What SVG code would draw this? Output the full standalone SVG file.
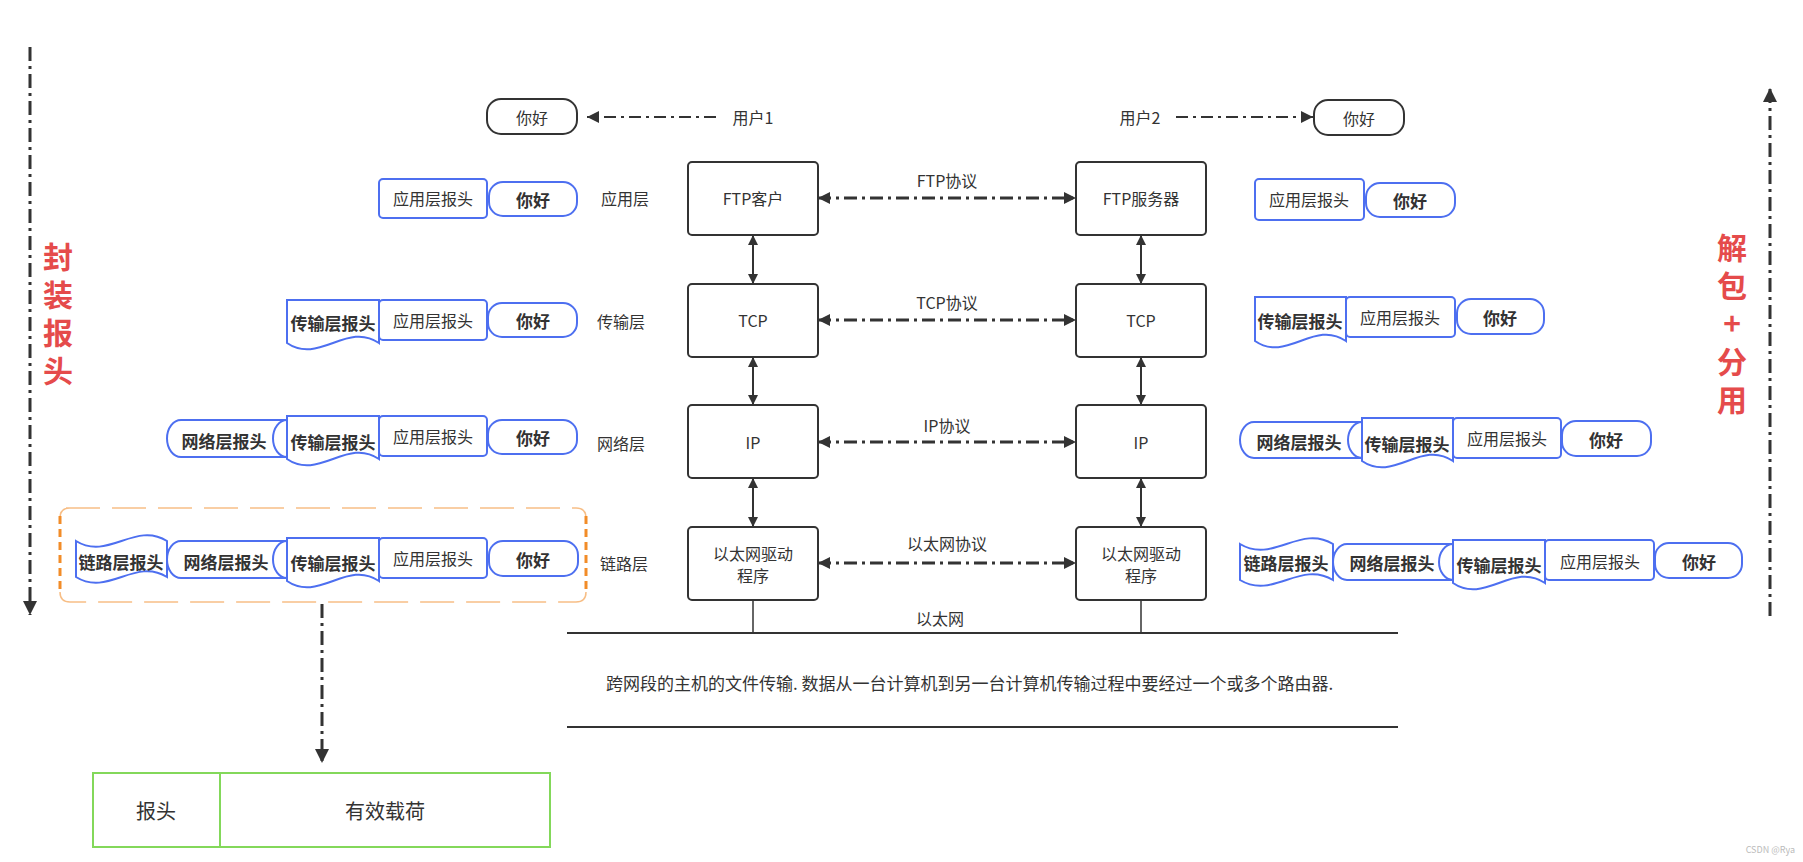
<svg xmlns="http://www.w3.org/2000/svg" width="1803" height="862" viewBox="0 0 1803 862">
<style>
.box{fill:#fff;stroke:#333;stroke-width:2}
.pk{fill:#fff;stroke:#4D6FF0;stroke-width:2}
.t{font-family:"Noto Sans CJK SC","Noto Sans",sans-serif;font-size:16px;fill:#333;text-anchor:middle;dominant-baseline:central}
.b{font-weight:bold;font-size:17px}
.red{font-family:"Noto Sans CJK SC","Noto Sans",sans-serif;fill:#E54B4B;font-size:30px;font-weight:bold;writing-mode:vertical-rl;text-orientation:upright;letter-spacing:8px}
.proto{stroke:#333;stroke-width:3;stroke-dasharray:13 5 3 5;fill:none}
.user{stroke:#333;stroke-width:2;stroke-dasharray:12 5 3 5;fill:none}
.side{stroke:#333;stroke-width:3;stroke-dasharray:14 5 3 5;fill:none}
.solid{stroke:#333;stroke-width:2;fill:none}
</style>
<defs>
<marker id="ah" viewBox="0 0 10 10" refX="10" refY="5" markerUnits="userSpaceOnUse" markerWidth="14" markerHeight="12" orient="auto-start-reverse"><path d="M0,0 L10,5 L0,10 z" fill="#333"/></marker>
<marker id="ahs" viewBox="0 0 10 10" refX="10" refY="5" markerUnits="userSpaceOnUse" markerWidth="12" markerHeight="10" orient="auto-start-reverse"><path d="M0,0 L10,5 L0,10 z" fill="#333"/></marker>
<marker id="ahb" viewBox="0 0 10 10" refX="10" refY="5" markerUnits="userSpaceOnUse" markerWidth="18" markerHeight="14" orient="auto-start-reverse"><path d="M0,0 L10,5 L0,10 z" fill="#333"/></marker>
</defs>

<g id="connectors">
  <line class="user" x1="716" y1="117" x2="587" y2="117" marker-end="url(#ah)"/>
  <line class="user" x1="1176" y1="117" x2="1313" y2="117" marker-end="url(#ah)"/>
  <line class="proto" x1="818" y1="198" x2="1076" y2="198" marker-start="url(#ah)" marker-end="url(#ah)"/>
  <line class="proto" x1="818" y1="320" x2="1076" y2="320" marker-start="url(#ah)" marker-end="url(#ah)"/>
  <line class="proto" x1="818" y1="442" x2="1076" y2="442" marker-start="url(#ah)" marker-end="url(#ah)"/>
  <line class="proto" x1="818" y1="563" x2="1076" y2="563" marker-start="url(#ah)" marker-end="url(#ah)"/>
  <line class="solid" x1="753" y1="235" x2="753" y2="284" marker-start="url(#ahs)" marker-end="url(#ahs)"/>
  <line class="solid" x1="753" y1="357" x2="753" y2="405" marker-start="url(#ahs)" marker-end="url(#ahs)"/>
  <line class="solid" x1="753" y1="478" x2="753" y2="527" marker-start="url(#ahs)" marker-end="url(#ahs)"/>
  <line class="solid" x1="1141" y1="235" x2="1141" y2="284" marker-start="url(#ahs)" marker-end="url(#ahs)"/>
  <line class="solid" x1="1141" y1="357" x2="1141" y2="405" marker-start="url(#ahs)" marker-end="url(#ahs)"/>
  <line class="solid" x1="1141" y1="478" x2="1141" y2="527" marker-start="url(#ahs)" marker-end="url(#ahs)"/>
  <line stroke="#333" stroke-width="1.5" x1="753" y1="600" x2="753" y2="633"/>
  <line stroke="#333" stroke-width="1.5" x1="1141" y1="600" x2="1141" y2="633"/>
  <line stroke="#333" stroke-width="2" x1="567" y1="633" x2="1398" y2="633"/>
  <line stroke="#333" stroke-width="2" x1="567" y1="727" x2="1398" y2="727"/>
  <line class="side" x1="30" y1="47" x2="30" y2="615" marker-end="url(#ahb)"/>
  <line class="side" x1="1770" y1="616" x2="1770" y2="88" marker-end="url(#ahb)"/>
  <line class="side" x1="322" y1="604" x2="322" y2="763" marker-end="url(#ahb)"/>
</g>

<g id="labels">
  <text class="t" x="753" y="117">用户1</text>
  <text class="t" x="1140" y="117">用户2</text>
  <text class="t" x="947" y="180">FTP协议</text>
  <text class="t" x="947" y="302">TCP协议</text>
  <text class="t" x="947" y="425">IP协议</text>
  <text class="t" x="947" y="543">以太网协议</text>
  <text class="t" x="940" y="618">以太网</text>
  <text class="t" x="625" y="198">应用层</text>
  <text class="t" x="621" y="321">传输层</text>
  <text class="t" x="621" y="443">网络层</text>
  <text class="t" x="624" y="563">链路层</text>
  <text class="t" x="606" y="682" style="text-anchor:start;font-size:17px">跨网段的主机的文件传输. 数据从一台计算机到另一台计算机传输过程中要经过一个或多个路由器.</text>
  <text class="red" x="58" y="242">封装报头</text>
  <text class="red" x="1732" y="233">解包+分用</text>
  <text class="t" x="1795" y="849" style="text-anchor:end;font-size:9px;fill:#bbb">CSDN @Rya</text>
</g>

<g id="hello-left"><rect class="box" x="487" y="99" width="90" height="35" rx="14"/><text class="t" x="532" y="117">你好</text></g>
<g id="hello-right"><rect class="box" x="1314" y="100" width="90" height="35" rx="14"/><text class="t" x="1359" y="118">你好</text></g>

<g id="ftp-client"><rect class="box" x="688" y="162" width="130" height="73" rx="4"/><text class="t" x="753" y="198">FTP客户</text></g>
<g id="ftp-server"><rect class="box" x="1076" y="162" width="130" height="73" rx="4"/><text class="t" x="1141" y="198">FTP服务器</text></g>
<g id="tcp-left"><rect class="box" x="688" y="284" width="130" height="73" rx="4"/><text class="t" x="753" y="320">TCP</text></g>
<g id="tcp-right"><rect class="box" x="1076" y="284" width="130" height="73" rx="4"/><text class="t" x="1141" y="320">TCP</text></g>
<g id="ip-left"><rect class="box" x="688" y="405" width="130" height="73" rx="4"/><text class="t" x="753" y="442">IP</text></g>
<g id="ip-right"><rect class="box" x="1076" y="405" width="130" height="73" rx="4"/><text class="t" x="1141" y="442">IP</text></g>
<g id="eth-left"><rect class="box" x="688" y="527" width="130" height="73" rx="4"/><text class="t" x="753" y="553">以太网驱动</text><text class="t" x="753" y="575">程序</text></g>
<g id="eth-right"><rect class="box" x="1076" y="527" width="130" height="73" rx="4"/><text class="t" x="1141" y="553">以太网驱动</text><text class="t" x="1141" y="575">程序</text></g>

<g id="left-row1">
  <rect class="pk" x="379" y="179" width="108" height="39" rx="4"/><text class="t" x="433" y="198">应用层报头</text>
  <rect class="pk" x="489" y="182" width="88" height="34" rx="14"/><text class="t b" x="533" y="199">你好</text>
</g>
<g id="left-row2">
  <path class="pk" d="M287,300 H379 V343 C347,321 319,365 287,343 Z"/><text class="t b" x="333" y="322">传输层报头</text>
  <rect class="pk" x="379" y="300" width="108" height="40" rx="4"/><text class="t" x="433" y="320">应用层报头</text>
  <rect class="pk" x="488" y="303" width="89" height="34" rx="14"/><text class="t b" x="533" y="320">你好</text>
</g>
<g id="left-row3">
  <path class="pk" d="M181,420 H287 A14,18.5 0 0 0 287,457 H181 A14,18.5 0 0 1 181,420 Z"/><text class="t b" x="224" y="440">网络层报头</text>
  <path class="pk" d="M287,416 H379 V459 C347,437 319,481 287,459 Z"/><text class="t b" x="333" y="441">传输层报头</text>
  <rect class="pk" x="379" y="416" width="108" height="40" rx="4"/><text class="t" x="433" y="436">应用层报头</text>
  <rect class="pk" x="488" y="420" width="89" height="34" rx="14"/><text class="t b" x="533" y="437">你好</text>
</g>
<g id="left-row4">
  <path d="M66,508 H576 Q586,508 586,518 M586,592 Q586,602 576,602 H70 Q60,602 60,592 M60,518 Q60,508 70,508" fill="none" stroke="#F7BE86" stroke-width="1.5" stroke-dasharray="34 12"/>
  <line x1="60" y1="516" x2="60" y2="594" stroke="#F28C28" stroke-width="3" stroke-dasharray="8 5"/>
  <line x1="586" y1="516" x2="586" y2="594" stroke="#F28C28" stroke-width="3" stroke-dasharray="8 5"/>
  <path class="pk" d="M76,541 C108,561 135,521 167,541 V577 C135,557 108,597 76,577 Z"/><text class="t b" x="121" y="561">链路层报头</text>
  <path class="pk" d="M181,541 H287 A14,18.5 0 0 0 287,578 H181 A14,18.5 0 0 1 181,541 Z"/><text class="t b" x="226" y="561">网络层报头</text>
  <path class="pk" d="M287,538 H379 V581 C347,559 319,603 287,581 Z"/><text class="t b" x="333" y="562">传输层报头</text>
  <rect class="pk" x="379" y="538" width="108" height="40" rx="4"/><text class="t" x="433" y="558">应用层报头</text>
  <rect class="pk" x="489" y="541" width="89" height="35" rx="14"/><text class="t b" x="533" y="559">你好</text>
</g>

<g id="right-row1">
  <rect class="pk" x="1255" y="179" width="109" height="41" rx="4"/><text class="t" x="1309" y="199">应用层报头</text>
  <rect class="pk" x="1366" y="183" width="89" height="34" rx="14"/><text class="t b" x="1410" y="200">你好</text>
</g>
<g id="right-row2">
  <path class="pk" d="M1255,297 H1346 V341 C1314,319 1287,363 1255,341 Z"/><text class="t b" x="1300" y="320">传输层报头</text>
  <rect class="pk" x="1346" y="297" width="109" height="40" rx="4"/><text class="t" x="1400" y="317">应用层报头</text>
  <rect class="pk" x="1457" y="299" width="87" height="35" rx="14"/><text class="t b" x="1500" y="317">你好</text>
</g>
<g id="right-row3">
  <path class="pk" d="M1254,422 H1362 A14,18 0 0 0 1362,458 H1254 A14,18 0 0 1 1254,422 Z"/><text class="t b" x="1299" y="441">网络层报头</text>
  <path class="pk" d="M1362,418 H1453 V461 C1421,439 1394,483 1362,461 Z"/><text class="t b" x="1407" y="443">传输层报头</text>
  <rect class="pk" x="1453" y="418" width="108" height="40" rx="4"/><text class="t" x="1507" y="438">应用层报头</text>
  <rect class="pk" x="1562" y="421" width="89" height="35" rx="14"/><text class="t b" x="1606" y="439">你好</text>
</g>
<g id="right-row4">
  <path class="pk" d="M1240,544 C1273,564 1300,524 1333,544 V580 C1300,560 1273,600 1240,580 Z"/><text class="t b" x="1286" y="562">链路层报头</text>
  <path class="pk" d="M1347,544 H1453 A14,18 0 0 0 1453,580 H1347 A14,18 0 0 1 1347,544 Z"/><text class="t b" x="1392" y="562">网络层报头</text>
  <path class="pk" d="M1453,540 H1545 V583 C1513,561 1485,605 1453,583 Z"/><text class="t b" x="1499" y="564">传输层报头</text>
  <rect class="pk" x="1545" y="540" width="109" height="40" rx="4"/><text class="t" x="1600" y="561">应用层报头</text>
  <rect class="pk" x="1655" y="543" width="87" height="35" rx="14"/><text class="t b" x="1699" y="561">你好</text>
</g>

<g id="frame">
  <rect x="93" y="773" width="457" height="74" fill="#fff" stroke="#83D85A" stroke-width="2"/>
  <line x1="220" y1="773" x2="220" y2="847" stroke="#83D85A" stroke-width="2"/>
  <text class="t" x="156" y="810" style="font-size:20px">报头</text>
  <text class="t" x="385" y="810" style="font-size:20px">有效载荷</text>
</g>
</svg>
